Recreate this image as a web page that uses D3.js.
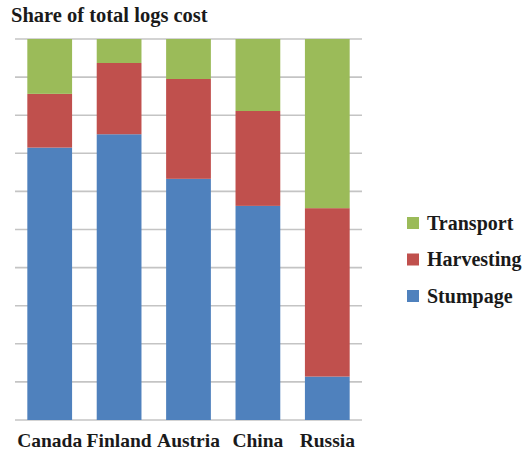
<!DOCTYPE html>
<html><head><meta charset="utf-8">
<script src="https://cdn.jsdelivr.net/npm/d3@7"></script>
<style>body{margin:0;background:#fff;}svg{display:block;}</style>
</head><body>
<script>
const categories = ["Canada", "Finland", "Austria", "China", "Russia"];
const stumpage   = [71.5, 75.0, 63.3, 56.2, 11.4];
const harvesting = [14.1, 18.7, 26.2, 24.9, 44.2];
const transport  = [14.4, 6.3, 10.5, 18.9, 44.4];
const seriesNames = ["Stumpage", "Harvesting", "Transport"];
const yTicks = [0, 10, 20, 30, 40, 50, 60, 70, 80, 90, 100];

const colors = {Stumpage: "#4f81bd", Harvesting: "#c0504d", Transport: "#9bbb59"};
const W = 524, H = 457;
const font = '"Liberation Serif", "Times New Roman", serif';

const svg = d3.select("body").append("svg").attr("width", W).attr("height", H);

const x = d3.scaleBand().domain(categories).range([15, 362]).paddingInner(0.355).paddingOuter(0.1775);
const y = d3.scaleLinear().domain([0, 100]).range([420, 39]);

svg.append("text").attr("x", 11).attr("y", 22)
  .style("font-family", font).attr("font-weight", "bold").attr("font-size", 20.5)
  .attr("fill", "#1a1a1a").text("Share of total logs cost");

svg.append("g").selectAll("line").data(yTicks).join("line")
  .attr("x1", 15).attr("x2", 362)
  .attr("y1", d => y(d)).attr("y2", d => y(d))
  .attr("stroke", "#c4c4c4").attr("stroke-width", 1.6);

const rows = categories.map((c, i) => ({cat: c, Stumpage: stumpage[i], Harvesting: harvesting[i], Transport: transport[i]}));
const stack = d3.stack().keys(seriesNames)(rows);

svg.append("g").selectAll("g").data(stack).join("g")
  .attr("fill", d => colors[d.key])
  .selectAll("rect").data(d => d).join("rect")
  .attr("x", d => x(d.data.cat))
  .attr("width", x.bandwidth())
  .attr("y", d => y(d[1]))
  .attr("height", d => y(d[0]) - y(d[1]));

svg.append("g").selectAll("text").data(categories).join("text")
  .attr("x", d => x(d) + x.bandwidth() / 2).attr("y", 447)
  .attr("text-anchor", "middle")
  .style("font-family", font).attr("font-weight", "bold").attr("font-size", 19.5)
  .attr("fill", "#1a1a1a").text(d => d);

const legendOrder = ["Transport", "Harvesting", "Stumpage"];
const lg = svg.append("g").selectAll("g").data(legendOrder).join("g")
  .attr("transform", (d, i) => `translate(407, ${223 + i * 36.5})`);
lg.append("rect").attr("x", 0).attr("y", -6).attr("width", 12).attr("height", 12)
  .attr("fill", d => colors[d]);
lg.append("text").attr("x", 20).attr("y", 6.5)
  .style("font-family", font).attr("font-weight", "bold").attr("font-size", 20)
  .attr("fill", "#1a1a1a").text(d => d);
</script>
</body></html>
